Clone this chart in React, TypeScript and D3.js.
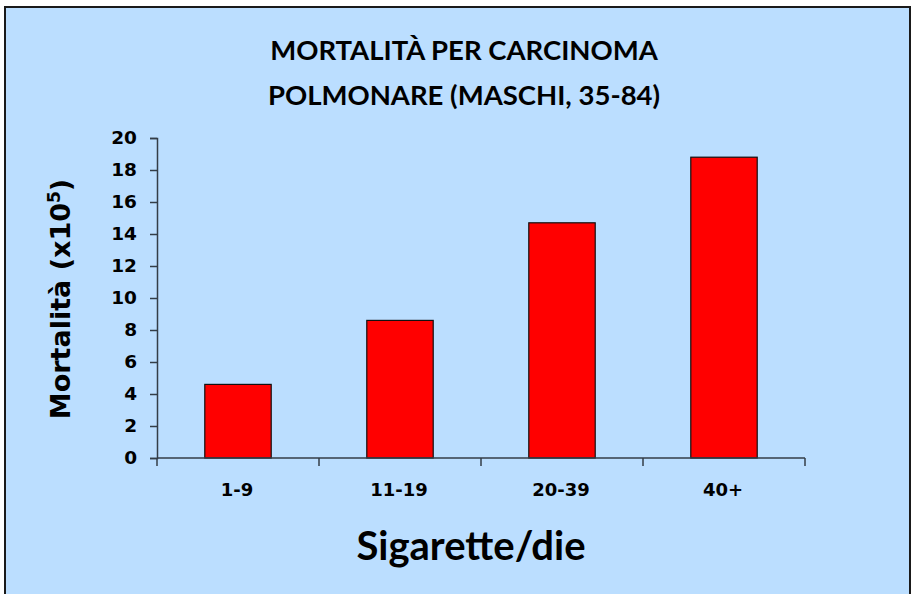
import React, { useEffect, useRef } from "react";
import * as d3 from "d3";

const categories = ["1-9", "11-19", "20-39", "40+"];
const values = [4.6, 8.6, 14.7, 18.8];
const yTicks = [0, 2, 4, 6, 8, 10, 12, 14, 16, 18, 20];
const titleLines = ["MORTALITÀ PER CARCINOMA", "POLMONARE (MASCHI, 35-84)"];

const App = () => {
  const svgRef = useRef<SVGSVGElement>(null);

  useEffect(() => {
    const svg = d3.select(svgRef.current);
    svg.selectAll("*").remove();

    const width = 913;
    const height = 594;
    const plot = { left: 157, right: 805, top: 138, bottom: 458 };

    // background frame
    svg
      .append("rect")
      .attr("x", 5)
      .attr("y", 7)
      .attr("width", 905)
      .attr("height", 600)
      .attr("fill", "#bbdeff")
      .attr("stroke", "#1a1a1a")
      .attr("stroke-width", 2);

    const x = d3
      .scaleBand()
      .domain(categories)
      .range([plot.left, plot.right])
      .paddingInner(0.59)
      .paddingOuter(0.295);

    const y = d3.scaleLinear().domain([0, 20]).range([plot.bottom, plot.top]);

    // title
    svg
      .append("g")
      .selectAll("text")
      .data(titleLines)
      .enter()
      .append("text")
      .attr("x", 464)
      .attr("y", (d, i) => 60 + i * 45)
      .attr("text-anchor", "middle")
      .style("font-family", "Lato, 'Open Sans', sans-serif")
      .style("font-weight", "700")
      .style("font-size", "27.5px")
      .style("fill", "#000")
      .text((d) => d);

    // bars
    svg
      .append("g")
      .selectAll("rect")
      .data(values)
      .enter()
      .append("rect")
      .attr("x", (d, i) => x(categories[i]))
      .attr("y", (d) => y(d))
      .attr("width", x.bandwidth())
      .attr("height", (d) => y(0) - y(d))
      .attr("fill", "#ff0000")
      .attr("stroke", "#111")
      .attr("stroke-width", 1.2);

    // y axis
    const yAxis = svg
      .append("g")
      .attr("transform", `translate(${plot.left},0)`)
      .call(d3.axisLeft(y).tickValues(yTicks).tickSize(7).tickPadding(13));
    yAxis.select(".domain").attr("stroke", "#333d47").attr("stroke-width", 1.5);
    yAxis.selectAll("line").attr("stroke", "#333d47").attr("stroke-width", 1.5);
    yAxis
      .selectAll("text")
      .style("font-family", "'DejaVu Sans', Verdana, sans-serif")
      .style("font-weight", "700")
      .style("font-size", "18.5px")
      .style("fill", "#000");

    // x axis line + boundary ticks
    const xg = svg.append("g");
    xg.append("line")
      .attr("x1", plot.left)
      .attr("x2", plot.right)
      .attr("y1", y(0))
      .attr("y2", y(0))
      .attr("stroke", "#333d47")
      .attr("stroke-width", 1.5);
    const bounds = d3.range(categories.length + 1).map((i) => plot.left + i * x.step());
    xg.selectAll(".xtick")
      .data(bounds)
      .enter()
      .append("line")
      .attr("class", "xtick")
      .attr("x1", (d) => d)
      .attr("x2", (d) => d)
      .attr("y1", y(0))
      .attr("y2", y(0) + 8)
      .attr("stroke", "#333d47")
      .attr("stroke-width", 1.5);
    xg.selectAll(".xlabel")
      .data(categories)
      .enter()
      .append("text")
      .attr("class", "xlabel")
      .attr("x", (d) => x(d) + x.bandwidth() / 2 - 1)
      .attr("y", 496)
      .attr("text-anchor", "middle")
      .style("font-family", "'DejaVu Sans', Verdana, sans-serif")
      .style("font-weight", "700")
      .style("font-size", "18px")
      .style("fill", "#000")
      .text((d) => d);

    // axis titles
    svg
      .append("text")
      .attr("x", 471)
      .attr("y", 560)
      .attr("text-anchor", "middle")
      .style("font-family", "Lato, 'Open Sans', sans-serif")
      .style("font-weight", "700")
      .style("font-size", "40px")
      .style("fill", "#000")
      .text("Sigarette/die");

    const yLabel = svg
      .append("text")
      .attr("transform", `translate(70, 299) rotate(-90)`)
      .attr("text-anchor", "middle")
      .style("font-family", "'DejaVu Sans', Verdana, sans-serif")
      .style("font-weight", "700")
      .style("font-size", "27px")
      .style("fill", "#000");
    yLabel.append("tspan").text("Mortalità (x10");
    yLabel.append("tspan").attr("dy", -10).style("font-size", "17px").text("5");
    yLabel.append("tspan").attr("dy", 10).text(")");

    svg.attr("width", width).attr("height", height);
  }, []);

  return (
    <svg
      ref={svgRef}
      width={913}
      height={594}
      style={{ position: "absolute", left: 0, top: 0, background: "#fff" }}
    ></svg>
  );
};

export default App;
